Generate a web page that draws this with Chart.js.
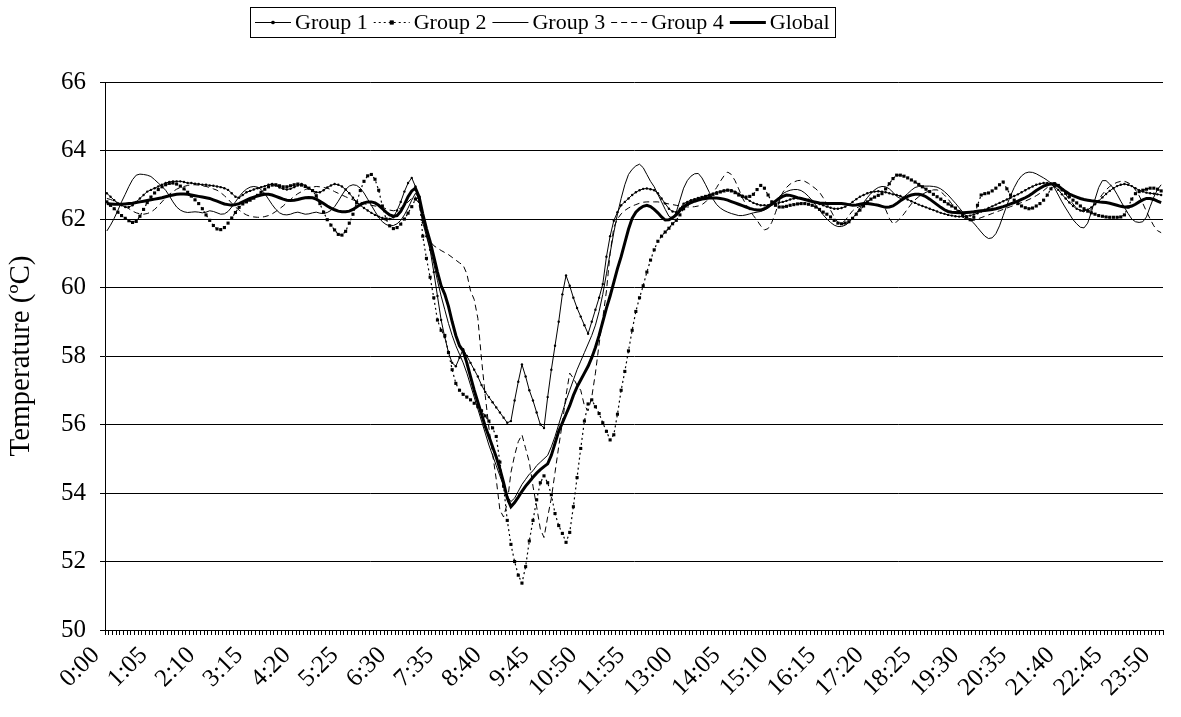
<!DOCTYPE html>
<html>
<head>
<meta charset="utf-8">
<title>Temperature by group</title>
<script src="https://cdn.jsdelivr.net/npm/chart.js@4/dist/chart.umd.min.js"></script>
<style>
  html, body { margin: 0; padding: 0; background: #fff; }
  #wrap { width: 1181px; height: 717px; }
</style>
</head>
<body>
<div id="wrap"><canvas id="chart" width="1181" height="717"></canvas></div>
<script>
// --- DATA ---
// categories: one reading every 5 minutes, 0:00 .. 23:55
const times = [];
for (let h = 0; h < 24; h++) {
    for (let m = 0; m < 60; m += 5) times.push(h + ':' + String(m).padStart(2, '0'));
}

// labels actually printed under the axis
const tickLabels = ['0:00', '1:05', '2:10', '3:15', '4:20', '5:25', '6:30', '7:35', '8:40', '9:45', '10:50', '11:55',
    '13:00', '14:05', '15:10', '16:15', '17:20', '18:25', '19:30', '20:35', '21:40', '22:45', '23:50'];

const yMin = 50, yMax = 66, yStep = 2;

const seriesNames = ['Group 1', 'Group 2', 'Group 3', 'Group 4', 'Global'];

const group1 = [
    62.75, 62.65, 62.55, 62.45, 62.4, 62.35, 62.35, 62.4, 62.5, 62.6, 62.7, 62.8,
    62.85, 62.9, 62.95, 63.0, 63.05, 63.08, 63.1, 63.1, 63.1, 63.08, 63.05, 63.05,
    63.03, 63.02, 63.0, 63.0, 62.98, 62.97, 62.95, 62.93, 62.9, 62.85, 62.75, 62.65,
    62.62, 62.7, 62.78, 62.82, 62.86, 62.9, 62.93, 62.96, 63.0, 63.02, 62.98, 62.92,
    62.88, 62.86, 62.88, 62.93, 62.98, 63.02, 62.98, 62.9, 62.83, 62.78, 62.78, 62.84,
    62.92, 62.98, 63.02, 63.0, 62.95, 62.86, 62.75, 62.62, 62.5, 62.4, 62.32, 62.25,
    62.18, 62.12, 62.07, 62.03, 62.0, 62.0, 62.05, 62.25, 62.5, 62.8, 63.05, 63.2,
    62.95, 62.5, 61.9, 61.5, 61.1, 60.45, 59.75, 59.05, 58.55, 58.1, 57.8, 57.7,
    57.95, 58.2, 58.0, 57.8, 57.6, 57.4, 57.15, 56.95, 56.8, 56.65, 56.5, 56.35,
    56.2, 56.05, 56.1, 56.7, 57.25, 57.75, 57.4, 57.0, 56.7, 56.35, 56.0, 55.9,
    56.8, 57.6, 58.3, 59.0, 59.8, 60.35, 60.05, 59.7, 59.4, 59.15, 58.9, 58.65,
    59.0, 59.35, 59.7, 60.1, 60.9, 61.5, 61.95, 62.2, 62.4, 62.5, 62.6, 62.7,
    62.78, 62.84, 62.88, 62.89, 62.87, 62.84, 62.75, 62.6, 62.45, 62.3, 62.22, 62.2,
    62.3, 62.45, 62.5, 62.55, 62.58, 62.6, 62.62, 62.66, 62.7, 62.74, 62.78, 62.8,
    62.83, 62.85, 62.84, 62.8, 62.74, 62.68, 62.6, 62.53, 62.47, 62.43, 62.4, 62.4,
    62.4, 62.42, 62.45, 62.48, 62.5, 62.53, 62.57, 62.6, 62.61, 62.6, 62.58, 62.56,
    62.53, 62.49, 62.44, 62.4, 62.36, 62.33, 62.3, 62.3, 62.32, 62.36, 62.42, 62.5,
    62.58, 62.65, 62.7, 62.75, 62.78, 62.8, 62.81, 62.8, 62.78, 62.75, 62.72, 62.7,
    62.67, 62.62, 62.57, 62.52, 62.47, 62.42, 62.38, 62.34, 62.3, 62.26, 62.22, 62.18,
    62.15, 62.12, 62.1, 62.08, 62.07, 62.07, 62.08, 62.1, 62.13, 62.17, 62.22, 62.27,
    62.32, 62.37, 62.42, 62.47, 62.52, 62.57, 62.62, 62.67, 62.72, 62.78, 62.84, 62.9,
    62.95, 63.0, 63.03, 63.05, 63.05, 63.02, 62.95, 62.85, 62.72, 62.6, 62.48, 62.38,
    62.3, 62.25, 62.24, 62.27, 62.34, 62.43, 62.53, 62.63, 62.73, 62.82, 62.9, 62.96,
    63.0, 63.02, 63.0, 62.96, 62.9, 62.84, 62.8, 62.77, 62.75, 62.74, 62.72, 62.7
];

const group2 = [
    62.5, 62.4, 62.3, 62.2, 62.1, 62.02, 61.95, 61.9, 61.93, 62.08, 62.28, 62.48,
    62.64, 62.76, 62.86, 62.94, 63.0, 63.04, 63.05, 63.02, 62.96, 62.88, 62.78, 62.67,
    62.56, 62.45, 62.3, 62.12, 61.96, 61.81, 61.71, 61.69, 61.75, 61.88, 62.03, 62.19,
    62.34, 62.44, 62.5, 62.55, 62.61, 62.69, 62.78, 62.87, 62.94, 62.99, 63.0, 62.97,
    62.94, 62.94, 62.97, 63.0, 63.02, 62.99, 62.95, 62.9, 62.83, 62.68, 62.45, 62.2,
    61.98, 61.82, 61.68, 61.55, 61.53, 61.64, 61.88, 62.14, 62.48, 62.83, 63.1, 63.26,
    63.3, 63.16, 62.84, 62.38, 62.0, 61.8, 61.72, 61.75, 61.85, 62.0, 62.17, 62.36,
    62.58, 62.63, 61.5, 60.85, 60.3, 59.7, 59.05, 58.75, 58.6, 58.1, 57.6, 57.2,
    57.0, 56.88, 56.8, 56.72, 56.62, 56.52, 56.4, 56.25, 56.1, 55.9, 55.65, 54.9,
    54.2, 53.2, 52.5, 52.0, 51.6, 51.37, 51.85, 52.6, 53.2, 53.8, 54.3, 54.5,
    54.3, 53.95, 53.4, 53.05, 52.82, 52.56, 52.85, 53.6, 54.45, 55.3, 56.1, 56.6,
    56.72, 56.52, 56.32, 56.05, 55.8, 55.55, 55.7, 56.3, 57.0, 57.55, 58.15, 58.75,
    59.3, 59.7, 60.05, 60.45, 60.8, 61.1, 61.35, 61.5, 61.62, 61.73, 61.86, 61.96,
    62.12, 62.3, 62.42, 62.5, 62.55, 62.6, 62.63, 62.66, 62.69, 62.72, 62.75, 62.79,
    62.82, 62.84, 62.82, 62.77, 62.7, 62.66, 62.64, 62.66, 62.72, 62.86, 62.98, 62.9,
    62.7, 62.5, 62.4, 62.35, 62.35, 62.37, 62.4, 62.42, 62.44, 62.45, 62.45, 62.43,
    62.4, 62.35, 62.28, 62.2, 62.14, 62.06, 61.96, 61.88, 61.86, 61.88, 61.92, 62.02,
    62.14, 62.26, 62.38, 62.5, 62.58, 62.64, 62.69, 62.74, 62.88, 63.03, 63.18, 63.28,
    63.28, 63.25, 63.2, 63.14, 63.08, 63.01, 62.94, 62.87, 62.8, 62.72, 62.65, 62.58,
    62.51, 62.44, 62.38, 62.32, 62.22, 62.12, 62.05, 61.98, 62.05, 62.4, 62.7, 62.74,
    62.76, 62.82, 62.9, 63.0, 63.08, 62.88, 62.7, 62.55, 62.45, 62.38, 62.33, 62.3,
    62.32, 62.38, 62.45, 62.55, 62.7, 62.88, 63.03, 62.98, 62.85, 62.75, 62.65, 62.55,
    62.47, 62.38, 62.3, 62.23, 62.18, 62.14, 62.1, 62.08, 62.06, 62.05, 62.05, 62.05,
    62.06, 62.12, 62.35, 62.58, 62.74, 62.8, 62.84, 62.87, 62.9, 62.9, 62.87, 62.82
];

const group3 = [
    61.65, 61.82, 62.02, 62.25, 62.5, 62.72, 62.95, 63.15, 63.28, 63.31, 63.3, 63.28,
    63.24, 63.15, 63.05, 62.95, 62.84, 62.68, 62.5, 62.35, 62.26, 62.21, 62.19, 62.2,
    62.21, 62.2, 62.18, 62.2, 62.24, 62.22, 62.18, 62.14, 62.15, 62.22, 62.35, 62.5,
    62.65, 62.78, 62.87, 62.93, 62.95, 62.93, 62.86, 62.74, 62.58, 62.42, 62.28, 62.18,
    62.13, 62.12, 62.14, 62.18, 62.2, 62.17, 62.14, 62.15, 62.18, 62.2, 62.17, 62.16,
    62.19, 62.25, 62.36, 62.52, 62.7, 62.86, 62.96, 63.0, 62.98, 62.9, 62.76, 62.58,
    62.4, 62.22, 62.05, 61.92, 61.84, 61.8, 61.81, 61.86, 61.96, 62.12, 62.32, 62.55,
    62.75, 62.6, 62.1, 61.55, 61.15, 60.7, 60.2, 59.75, 59.35, 58.95, 58.6, 58.3,
    58.05, 57.8, 57.5, 57.15, 56.8, 56.45, 56.1, 55.75, 55.4, 55.1, 54.8, 54.5,
    54.2, 53.9, 53.75, 53.85, 54.05, 54.25, 54.4, 54.55, 54.65, 54.8, 54.9, 55.0,
    55.1, 55.35, 55.65, 56.0, 56.35, 56.7, 57.0, 57.3, 57.6, 57.85, 58.1, 58.35,
    58.6, 58.9, 59.3, 59.8, 60.4, 61.0, 61.6, 62.15, 62.6, 63.0, 63.3, 63.45,
    63.55, 63.6, 63.5, 63.3, 63.1, 62.94, 62.72, 62.5, 62.28, 62.08, 62.02, 62.2,
    62.55, 62.9, 63.12, 63.25, 63.32, 63.33, 63.2, 63.0, 62.78, 62.58, 62.42, 62.32,
    62.25, 62.2, 62.16, 62.13, 62.1, 62.1, 62.12, 62.15, 62.18, 62.2, 62.22, 62.26,
    62.32, 62.42, 62.54, 62.65, 62.74, 62.8, 62.84, 62.86, 62.86, 62.83, 62.76, 62.66,
    62.54, 62.4, 62.26, 62.12, 62.0, 61.9, 61.82, 61.78, 61.78, 61.82, 61.9, 62.02,
    62.16, 62.32, 62.48, 62.62, 62.75, 62.85, 62.92, 62.95, 62.94, 62.88, 62.78, 62.66,
    62.6, 62.65, 62.74, 62.84, 62.92, 62.95, 62.96, 62.96, 62.96, 62.95, 62.93, 62.88,
    62.8, 62.7, 62.58, 62.46, 62.33, 62.2, 62.08, 61.98, 61.88, 61.75, 61.62, 61.5,
    61.43, 61.45, 61.57, 61.8, 62.1, 62.4, 62.68, 62.92, 63.12, 63.26, 63.34, 63.37,
    63.36, 63.32, 63.26, 63.2, 63.13, 63.05, 62.9, 62.7, 62.5, 62.32, 62.15, 61.98,
    61.86, 61.76, 61.74, 61.88, 62.2, 62.58, 62.92, 63.12, 63.12, 63.02, 62.9, 62.72,
    62.52, 62.34, 62.16, 62.0, 61.92, 61.9, 61.92, 62.06, 62.36, 62.64, 62.86, 63.0
];

const group4 = [
    62.6, 62.57, 62.53, 62.48, 62.42, 62.36, 62.3, 62.23, 62.18, 62.15, 62.14, 62.16,
    62.2, 62.28, 62.38, 62.5, 62.62, 62.72, 62.8, 62.87, 62.92, 62.95, 62.98, 63.0,
    63.0, 62.99, 62.97, 62.95, 62.92, 62.88, 62.84, 62.77, 62.68, 62.58, 62.46, 62.35,
    62.26, 62.18, 62.12, 62.08, 62.06, 62.05, 62.05, 62.07, 62.1, 62.15, 62.22, 62.3,
    62.38, 62.48, 62.57, 62.66, 62.74, 62.8, 62.86, 62.9, 62.93, 62.95, 62.94, 62.92,
    62.9, 62.86, 62.8, 62.75, 62.7, 62.65, 62.6, 62.56, 62.52, 62.49, 62.45, 62.42,
    62.4, 62.38, 62.36, 62.34, 62.3, 62.26, 62.24, 62.26, 62.32, 62.4, 62.5, 62.6,
    62.65, 62.4, 61.96, 61.6, 61.35, 61.22, 61.15, 61.08, 61.02, 60.96, 60.88, 60.8,
    60.72, 60.65, 60.4, 59.9, 59.65, 59.1, 57.9, 56.85, 55.9, 55.15, 54.4, 53.5,
    53.3, 53.7, 54.6, 55.1, 55.5, 55.7, 55.3, 54.9, 54.2, 53.6, 52.95, 52.7,
    53.3, 53.85, 54.6, 55.35, 56.05, 56.85, 57.5, 57.35, 57.15, 57.0, 56.55, 56.4,
    56.8, 57.5, 58.35, 59.1, 59.9, 61.0, 61.75, 62.0, 62.15, 62.25, 62.32, 62.38,
    62.42, 62.46, 62.49, 62.5, 62.5, 62.5, 62.5, 62.48, 62.46, 62.44, 62.42, 62.4,
    62.38, 62.36, 62.35, 62.35, 62.36, 62.38, 62.42, 62.5, 62.62, 62.76, 62.92, 63.1,
    63.26, 63.37, 63.3, 63.12, 62.88, 62.62, 62.42, 62.26, 62.1, 61.96, 61.8, 61.68,
    61.72, 61.9, 62.18, 62.5, 62.78, 62.92, 63.02, 63.08, 63.12, 63.13, 63.1, 63.04,
    62.96, 62.88, 62.78, 62.62, 62.45, 62.26, 62.06, 61.9, 61.88, 61.96, 62.1, 62.24,
    62.32, 62.37, 62.4, 62.42, 62.44, 62.44, 62.42, 62.38, 62.28, 62.02, 61.86, 61.92,
    62.02, 62.15, 62.3, 62.44, 62.56, 62.65, 62.72, 62.78, 62.82, 62.85, 62.85, 62.8,
    62.7, 62.58, 62.44, 62.3, 62.17, 62.06, 61.98, 61.95, 61.96, 62.0, 62.04, 62.08,
    62.12, 62.16, 62.2, 62.24, 62.28, 62.32, 62.36, 62.4, 62.44, 62.48, 62.52, 62.57,
    62.62, 62.68, 62.75, 62.83, 62.92, 63.0, 63.05, 62.98, 62.85, 62.72, 62.58, 62.44,
    62.32, 62.25, 62.2, 62.2, 62.28, 62.42, 62.58, 62.72, 62.85, 62.95, 63.02, 63.07,
    63.1, 63.1, 63.06, 62.98, 62.85, 62.68, 62.46, 62.22, 62.0, 61.8, 61.66, 61.6
];

const globalTemp = [
    62.45, 62.44, 62.43, 62.43, 62.43, 62.44, 62.45, 62.46, 62.48, 62.5, 62.52, 62.54,
    62.56, 62.58, 62.6, 62.62, 62.65, 62.68, 62.7, 62.72, 62.73, 62.73, 62.72, 62.7,
    62.68, 62.66, 62.64, 62.62, 62.6, 62.56, 62.52, 62.48, 62.44, 62.42, 62.4, 62.42,
    62.45, 62.5, 62.55, 62.6, 62.64, 62.67, 62.7, 62.72, 62.72, 62.7, 62.66, 62.62,
    62.58, 62.55, 62.54, 62.55, 62.57, 62.6, 62.62, 62.63, 62.62, 62.58, 62.52, 62.45,
    62.38, 62.32, 62.27, 62.23, 62.21, 62.21, 62.23, 62.28, 62.35, 62.42, 62.47, 62.5,
    62.5, 62.47, 62.4, 62.3, 62.2, 62.12, 62.08, 62.1, 62.22, 62.42, 62.65, 62.82,
    62.9, 62.65, 62.15, 61.72, 61.35, 60.9, 60.45, 60.05, 59.8, 59.45, 59.0, 58.6,
    58.3, 58.15, 57.8, 57.4, 57.0, 56.65, 56.3, 55.95, 55.65, 55.35, 55.05, 54.7,
    54.3, 53.85, 53.6, 53.72, 53.88, 54.05, 54.2, 54.33, 54.46, 54.58, 54.68, 54.77,
    54.85, 55.1, 55.45, 55.8, 56.05, 56.3, 56.55, 56.85, 57.1, 57.3, 57.5, 57.7,
    57.95, 58.25, 58.6, 59.0, 59.4, 59.75, 60.15, 60.55, 60.9, 61.3, 61.7, 62.02,
    62.2, 62.3, 62.37, 62.4, 62.36, 62.28, 62.18, 62.06, 61.97, 61.98, 62.04, 62.12,
    62.25, 62.36, 62.43, 62.48, 62.52, 62.55, 62.58, 62.6, 62.61, 62.61, 62.61, 62.6,
    62.58, 62.55, 62.51, 62.47, 62.43, 62.39, 62.35, 62.31, 62.28, 62.26, 62.26, 62.3,
    62.36, 62.44, 62.52, 62.6, 62.66, 62.7, 62.69, 62.66, 62.62, 62.6, 62.57, 62.54,
    62.51, 62.49, 62.47, 62.46, 62.45, 62.45, 62.45, 62.45, 62.45, 62.44, 62.42, 62.4,
    62.41, 62.43, 62.45, 62.45, 62.44, 62.42, 62.4, 62.37, 62.34, 62.35, 62.38, 62.45,
    62.53, 62.6, 62.66, 62.7, 62.72, 62.72, 62.7, 62.65, 62.58, 62.5, 62.42, 62.34,
    62.27, 62.22, 62.2, 62.19, 62.18, 62.18, 62.19, 62.2, 62.21, 62.23, 62.24, 62.25,
    62.26, 62.28, 62.3, 62.33, 62.36, 62.4, 62.44, 62.48, 62.52, 62.57, 62.62, 62.68,
    62.75, 62.83, 62.9, 62.96, 63.0, 63.03, 63.02, 62.96, 62.88, 62.8, 62.73, 62.68,
    62.64, 62.6, 62.57, 62.55, 62.53, 62.52, 62.5, 62.49, 62.48, 62.46, 62.43, 62.4,
    62.37, 62.35, 62.35, 62.38, 62.43, 62.5, 62.56, 62.6, 62.6, 62.57, 62.52, 62.48
];

// --- LAYOUT / STYLE ---
const FONT = '"Liberation Serif", "Times New Roman", serif';
const LEGEND_CENTER_X = 542;

// legend in a thin frame, each sample drawn with its dataset's own style
const framedLegend = {
    id: 'framedLegend',
    afterDraw(chart) {
        const ctx = chart.ctx;
        const sets = chart.data.datasets;
        const sampleW = 36, gap = 4, itemGap = 6, padX = 5;
        const top = 7, h = 30, midY = top + h / 2;

        ctx.save();
        ctx.font = '22px ' + FONT;
        const widths = sets.map(ds => ctx.measureText(ds.label).width);
        const total = widths.reduce((s, w) => s + sampleW + gap + w, 0) + itemGap * (sets.length - 1) + padX * 2;
        const left = Math.round(LEGEND_CENTER_X - total / 2);

        ctx.strokeStyle = '#000';
        ctx.lineWidth = 1;
        ctx.setLineDash([]);
        ctx.strokeRect(left + 0.5, top + 0.5, Math.round(total), h);

        let x = left + padX;
        sets.forEach((ds, i) => {
            ctx.save();
            ctx.strokeStyle = '#000';
            ctx.lineWidth = ds.borderWidth;
            ctx.setLineDash(ds.borderDash || []);
            ctx.beginPath();
            ctx.moveTo(x, midY + 0.5);
            ctx.lineTo(x + sampleW, midY + 0.5);
            ctx.stroke();
            ctx.restore();
            if (ds.pointRadius > 0) {
                Chart.helpers.drawPoint(ctx, {
                    pointStyle: ds.pointStyle,
                    radius: ds.pointRadius + 0.5,
                    borderWidth: 0
                }, x + sampleW / 2, midY + 0.5);
                ctx.fillStyle = '#000';
                ctx.fill();
            }
            ctx.fillStyle = '#000';
            ctx.textBaseline = 'middle';
            ctx.fillText(ds.label, x + sampleW + gap, midY + 1);
            x += sampleW + gap + widths[i] + itemGap;
        });
        ctx.restore();
    }
};

function makeSet(label, data, extra) {
    return Object.assign({
        label: label,
        data: data,
        borderColor: '#000',
        backgroundColor: '#000',
        borderWidth: 1,
        pointRadius: 0,
        pointBorderWidth: 0,
        pointBackgroundColor: '#000',
        tension: 0,
        fill: false
    }, extra);
}

const datasets = [
    makeSet(seriesNames[0], group1, { pointRadius: 1.2, pointStyle: 'circle' }),
    makeSet(seriesNames[1], group2, { borderWidth: 1.2, borderDash: [2, 3], pointRadius: 2.2, pointStyle: 'rect' }),
    makeSet(seriesNames[2], group3, {}),
    makeSet(seriesNames[3], group4, { borderDash: [6, 4] }),
    makeSet(seriesNames[4], globalTemp, { borderWidth: 3 })
];

new Chart(document.getElementById('chart'), {
    type: 'line',
    data: { labels: times, datasets: datasets },
    plugins: [framedLegend],
    options: {
        responsive: false,
        animation: false,
        devicePixelRatio: 1,
        events: [],
        layout: { padding: { top: 82, right: 18, left: 0, bottom: 0 } },
        plugins: {
            legend: { display: false },
            tooltip: { enabled: false }
        },
        scales: {
            x: {
                type: 'category',
                offset: true,
                afterFit: scale => {
                    scale.height = 87;
                    // keep the plot edge fixed; rotated labels have room on the left
                    scale.paddingLeft = 0;
                    scale.paddingRight = 0;
                },
                grid: {
                    display: true,
                    drawOnChartArea: false,
                    offset: true,
                    tickLength: 5,
                    color: '#000',
                    lineWidth: 1
                },
                border: { display: true, color: '#000', width: 1 },
                ticks: {
                    autoSkip: false,
                    minRotation: 45,
                    maxRotation: 45,
                    padding: 6,
                    labelOffset: -11,
                    color: '#000',
                    font: { family: FONT, size: 25 },
                    callback: function (value, index) {
                        const t = times[index];
                        return tickLabels.includes(t) ? t : '';
                    }
                }
            },
            y: {
                min: yMin,
                max: yMax,
                afterFit: scale => { scale.width = 105; },
                grid: {
                    color: '#000',
                    lineWidth: 1,
                    tickLength: 5,
                    drawTicks: true
                },
                border: { display: true, color: '#000', width: 1 },
                ticks: {
                    stepSize: yStep,
                    padding: 14,
                    color: '#000',
                    font: { family: FONT, size: 25 }
                },
                title: {
                    display: true,
                    text: 'Temperature (ºC)',
                    color: '#000',
                    font: { family: FONT, size: 29 },
                    padding: { top: 4, bottom: 0 }
                }
            }
        }
    }
});
</script>
</body>
</html>
